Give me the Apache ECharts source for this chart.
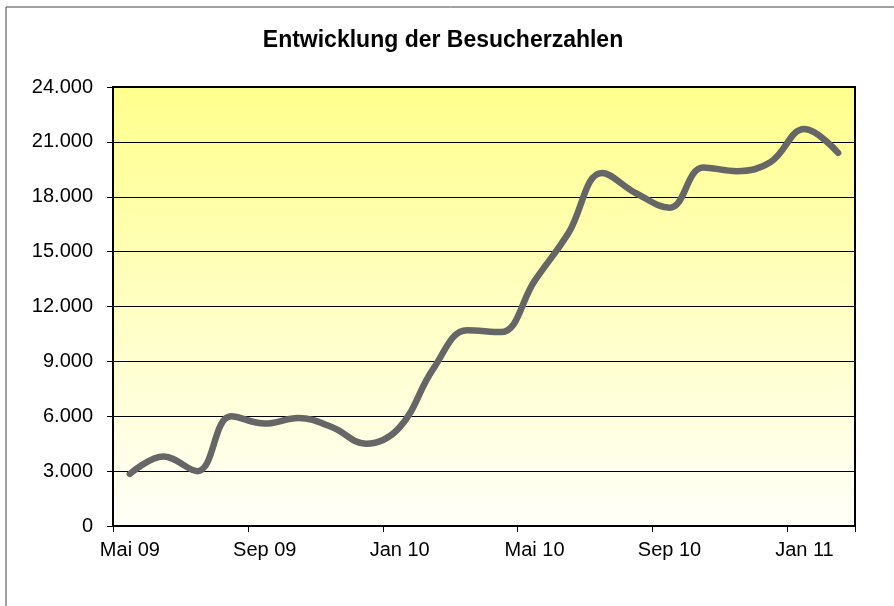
<!DOCTYPE html>
<html>
<head>
<meta charset="utf-8">
<script src="https://cdn.jsdelivr.net/npm/echarts@6/dist/echarts.min.js"></script>
<style>
  html, body { margin: 0; padding: 0; background: #fff; }
  #main { width: 894px; height: 606px; }
</style>
</head>
<body>
<div id="main"></div>
<script>
// Monate (Mai 09 bis Feb 11)
var months = ['Mai 09','Jun 09','Jul 09','Aug 09','Sep 09','Okt 09','Nov 09','Dez 09',
              'Jan 10','Feb 10','Mrz 10','Apr 10','Mai 10','Jun 10','Jul 10','Aug 10',
              'Sep 10','Okt 10','Nov 10','Dez 10','Jan 11','Feb 11'];
// Besucherzahlen pro Monat
var visitors = [2850, 3800, 3000, 6000, 5600, 5900, 5400, 4500,
                5400, 8600, 10700, 10600, 13400, 16000, 19300, 18200,
                17400, 19600, 19400, 19900, 21700, 20400];
var yMin = 0, yMax = 24000, yStep = 3000;

function fmtDe(v) {
  return String(v).replace(/\B(?=(\d{3})+(?!\d))/g, '.');
}

var myChart = echarts.init(document.getElementById('main'));
var option = {
  animation: false,
  backgroundColor: '#ffffff',
  title: {
    text: 'Entwicklung der Besucherzahlen',
    left: 438,
    textAlign: 'center',
    top: 24,
    textStyle: {
      fontFamily: 'Liberation Sans, Arial, sans-serif',
      fontSize: 23,
      fontWeight: 'bold',
      color: '#000'
    }
  },
  graphic: [{
    type: 'rect',
    shape: { x: 6, y: 7, width: 900, height: 620 },
    style: { fill: null, stroke: '#444', lineWidth: 1 },
    silent: true,
    z: -1
  }],
  grid: {
    left: 113,
    right: 39,
    top: 87,
    bottom: 80,
    show: true,
    borderColor: '#000',
    borderWidth: 2,
    backgroundColor: new echarts.graphic.LinearGradient(0, 0, 0, 1, [
      { offset: 0, color: '#ffff8c' },
      { offset: 1, color: '#fffffa' }
    ])
  },
  xAxis: {
    type: 'category',
    data: months,
    boundaryGap: true,
    axisLine: { show: true, lineStyle: { color: '#000', width: 2 } },
    axisTick: { show: true, interval: 3, length: 6, alignWithLabel: false, lineStyle: { color: '#000', width: 1 } },
    axisLabel: {
      interval: 3,
      margin: 14,
      color: '#000',
      fontSize: 20,
      fontFamily: 'Liberation Sans, Arial, sans-serif'
    },
    splitLine: { show: false }
  },
  yAxis: {
    type: 'value',
    min: yMin,
    max: yMax,
    interval: yStep,
    axisLine: { show: true, lineStyle: { color: '#000', width: 2 } },
    axisTick: { show: true, length: 6, lineStyle: { color: '#000', width: 1 } },
    axisLabel: {
      margin: 20,
      color: '#000',
      fontSize: 20,
      fontFamily: 'Liberation Sans, Arial, sans-serif',
      formatter: fmtDe
    },
    splitLine: { show: true, lineStyle: { color: '#000', width: 1 } }
  },
  series: [{
    name: 'Besucher',
    type: 'line',
    data: visitors,
    smooth: 0.4,
    symbol: 'none',
    lineStyle: { color: '#666666', width: 6.5, cap: 'round', join: 'round' }
  }]
};
myChart.setOption(option);
</script>
</body>
</html>
